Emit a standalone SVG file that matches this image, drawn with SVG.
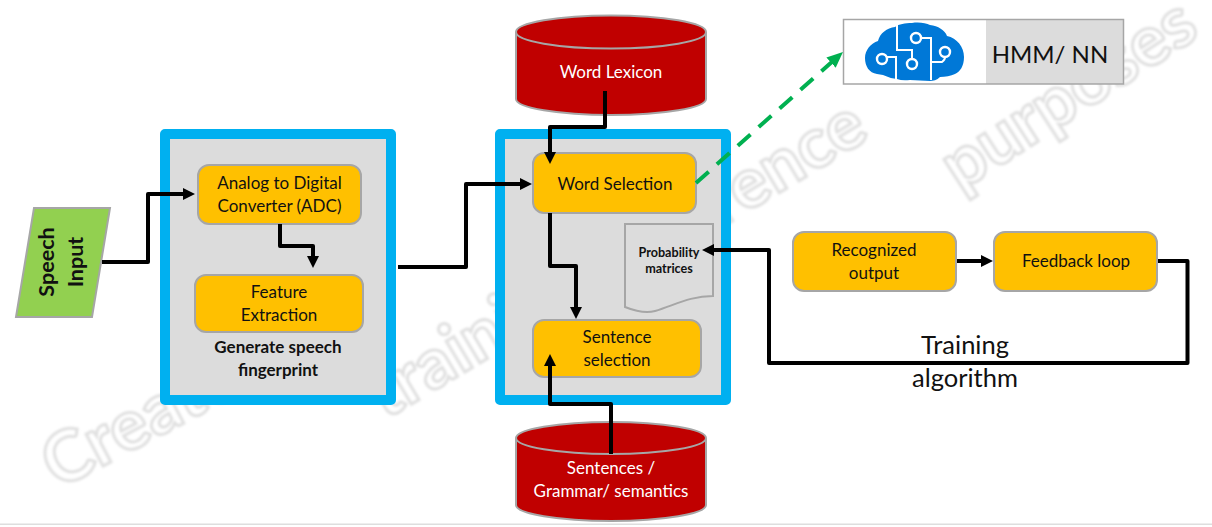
<svg xmlns="http://www.w3.org/2000/svg" width="1212" height="527" viewBox="0 0 1212 527">
<style>
text{font-family:"Lato","Liberation Sans",sans-serif;font-size:17px;fill:#111;text-anchor:middle}
.wm{font-size:71px;font-weight:700;fill:#fff;stroke:#e0e0e0;stroke-width:3px;text-anchor:start;filter:url(#soft)}
.panel{fill:#dcdcdc;stroke:#00b0f0;stroke-width:10;stroke-linejoin:round}
.step{fill:#ffc000;stroke:#a6a6a6;stroke-width:2}
.db{fill:#c00000;stroke:#a6a6a6;stroke-width:2}
.db-text{fill:#fff}
.bold{font-weight:700}
.link{fill:none;stroke:#000;stroke-width:4;stroke-linejoin:round;marker-end:url(#arrow)}
.ai{fill:none;stroke:#00b050;stroke-width:4;stroke-dasharray:17 11;marker-end:url(#garrow)}
.wire{fill:none;stroke:#fff;stroke-width:2}
.ring{fill:#0078d7;stroke:#fff;stroke-width:2.4}
</style>
<defs>
<filter id="soft" x="-5%" y="-5%" width="110%" height="110%"><feGaussianBlur stdDeviation="1"/></filter>
<marker id="arrow" markerUnits="userSpaceOnUse" markerWidth="14" markerHeight="14" refX="6" refY="7" orient="auto"><path d="M0 1L12 7L0 13Z" fill="#000"/></marker>
<marker id="garrow" markerUnits="userSpaceOnUse" markerWidth="18" markerHeight="16" refX="8" refY="8" orient="auto"><path d="M0 1L16 8L0 15Z" fill="#00b050"/></marker>
</defs>
<rect width="1212" height="527" fill="#fff"/>
<rect x="0" y="523.500" width="1212" height="1.500" fill="#dedede"/>
<g id="watermark">
<text class="wm" transform="translate(58 490) rotate(-28)">Created</text>
<text class="wm" transform="translate(385 420) rotate(-31)">training</text>
<text class="wm" transform="translate(614 292) rotate(-31)">reference</text>
<text class="wm" transform="translate(960 192) rotate(-33)">purposes</text>
</g>
<g id="panel-fingerprint"><rect class="panel" x="165" y="134" width="226" height="266"/></g>
<g id="panel-decoder"><rect class="panel" x="500" y="134" width="226" height="266"/></g>
<g id="speech-input">
<path d="M34 208H110L92 317H16Z" fill="#92d050" stroke="#a6a6a6" stroke-width="2"/>
<text class="bold" style="font-size:21.500px" transform="translate(54 262) rotate(-90)">Speech</text>
<text class="bold" style="font-size:21.500px" transform="translate(83 262) rotate(-90)">Input</text>
</g>
<g id="adc"><rect class="step" x="198" y="165" width="163" height="59" rx="11"/><text x="279.500" y="189">Analog to Digital</text><text x="279.500" y="212">Converter (ADC)</text></g>
<g id="feature"><rect class="step" x="195" y="275" width="168" height="57" rx="11"/><text x="279" y="298">Feature</text><text x="279" y="321">Extraction</text></g>
<g id="fingerprint-label"><text class="bold" x="278" y="353">Generate speech</text><text class="bold" x="278" y="376">fingerprint</text></g>
<g id="word-lexicon">
<path class="db" d="M516 32V99A95 16 0 0 0 706 99V32"/>
<ellipse class="db" cx="611" cy="32" rx="95" ry="16.500"/>
<text class="db-text" x="611" y="78">Word Lexicon</text>
</g>
<g id="sentences-db">
<path class="db" d="M516 438V505A95 16 0 0 0 706 505V438"/>
<ellipse class="db" cx="611" cy="438" rx="95" ry="16"/>
<text class="db-text" x="611" y="474">Sentences /</text><text class="db-text" x="611" y="497">Grammar/ semantics</text>
</g>
<g id="word-selection"><rect class="step" x="533" y="153" width="163" height="60" rx="11"/><text x="615" y="190">Word Selection</text></g>
<g id="sentence-selection"><rect class="step" x="533" y="320" width="168" height="57" rx="11"/><text x="617" y="343">Sentence</text><text x="617" y="366">selection</text></g>
<g id="probability">
<path d="M625 224H713V296C690 296 675 305 655 311C645 314 635 311 625 307Z" fill="#dcdcdc" stroke="#a6a6a6" stroke-width="2"/>
<text class="bold" x="669" y="257" style="font-size:12.600px">Probability</text><text class="bold" x="669" y="273" style="font-size:12.600px">matrices</text>
</g>
<g id="recognized"><rect class="step" x="793" y="232" width="163" height="59" rx="11"/><text x="874" y="256">Recognized</text><text x="874" y="279">output</text></g>
<g id="feedback"><rect class="step" x="994" y="232" width="163" height="59" rx="11"/><text x="1076" y="267">Feedback loop</text></g>
<g id="hmm-nn">
<rect x="986" y="19" width="138" height="65" fill="#dcdcdc"/>
<rect x="843.500" y="19.500" width="280" height="64.500" fill="none" stroke="#a6a6a6" stroke-width="1.500"/>
<path d="M877 74C869 73 865 66 865 58C865 50 871 43 878 41C880 33 887 28 895 27C899 24 905 23 912 23C919 22 926 23 930 25C938 26 945 30 947 36C957 38 964 47 964 57C964 66 960 72 955 74C951 76 945 77 940 77C937 80 933 81 930 81L910 80Q902 81 897 79Q889 78 883 75Z" fill="#0078d7"/>
<path class="wire" d="M897 25V50H912V58M896 79V57H887M921 38H931V80M931 62H942Q945 60 945 57"/>
<circle class="ring" cx="912" cy="64" r="5"/><circle class="ring" cx="882" cy="59" r="5"/><circle class="ring" cx="916" cy="38" r="5"/><circle class="ring" cx="945" cy="52" r="5"/>
<text x="1050" y="63" style="font-size:24px">HMM/ NN</text>
</g>
<g id="connectors">
<path class="link" d="M102 262H148V194H189"/>
<path class="link" d="M280 224V246H313V262"/>
<path class="link" d="M398 267H466V184H526"/>
<path class="link" d="M605 91V127H550V158"/>
<path class="link" d="M550 213V266H576V313"/>
<path class="link" d="M611 454V404H550V360"/>
<path class="link" d="M1158 261H1187.500V363H769V250H708"/>
<path class="link" d="M957 261H987"/>
<path class="ai" d="M696 183L837 57.300"/>
</g>
<g id="training-label"><text x="965" y="354" style="font-size:25.500px">Training</text><text x="965" y="387" style="font-size:25.500px">algorithm</text></g>
</svg>
